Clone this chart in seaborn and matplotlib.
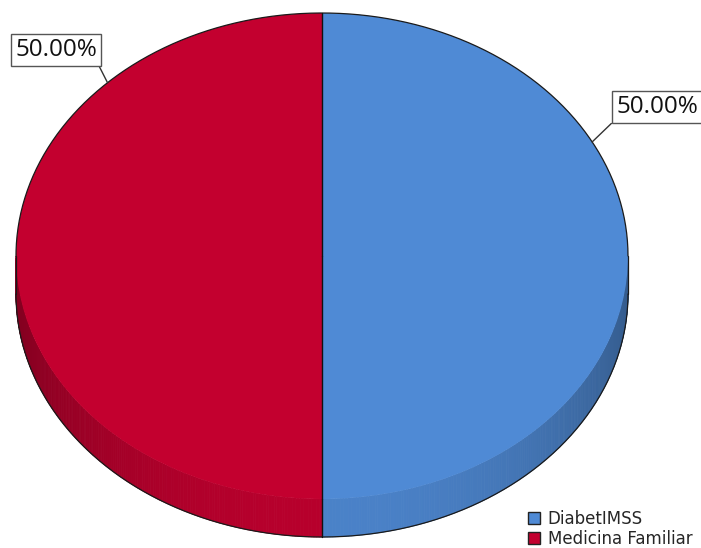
import numpy as np
import matplotlib
matplotlib.use("Agg")
import matplotlib.pyplot as plt
from matplotlib.patches import Patch, Polygon
import seaborn as sns

# Data
categories = ["DiabetIMSS", "Medicina Familiar"]
values = [50.0, 50.0]
colors = ["#4F8AD5", "#C3002F"]
label_angles = [28.0, 134.5]          # where each leader line meets the rim (degrees)

sns.set_theme(style="white")
plt.rcParams["font.family"] = ["DejaVu Sans"]
palette = sns.color_palette(colors)

W, H = 701, 548
fig = plt.figure(figsize=(W / 100, H / 100), dpi=100)
ax = fig.add_axes([0, 0, 1, 1])

# Ellipse geometry in pixels -> data units (unit circle stretched)
cx, cy = 322, 256
rx, ry = 306, 243
depth = 38 / ry


def to_data(px, py):
    return (px - cx) / rx, (cy - py) / ry


# Wedge angles: start at 12 o'clock, clockwise
fracs = np.array(values) / np.sum(values)
starts = 90 - 360 * np.concatenate([[0], np.cumsum(fracs)[:-1]])
ends = 90 - 360 * np.cumsum(fracs)

# Extruded side (front half only), shaded by angle
for s, e, col in zip(starts, ends, palette):
    lo, hi = sorted([s, e])
    for off in (0, 360, -360):
        a0, a1 = max(lo + off, 180), min(hi + off, 360)
        if a1 <= a0:
            continue
        n = max(int((a1 - a0) / 0.5), 1)
        grid = np.linspace(a0, a1, n + 1)
        for t0, t1 in zip(grid[:-1], grid[1:]):
            th = np.radians([t0, t1])
            tm = np.radians((t0 + t1) / 2)
            shade = 0.66 + 0.28 * abs(np.sin(tm)) ** 1.5
            c = tuple(np.clip(np.array(col) * shade, 0, 1))
            pts = [(np.cos(th[0]), np.sin(th[0])), (np.cos(th[1]), np.sin(th[1])),
                   (np.cos(th[1]), np.sin(th[1]) - depth), (np.cos(th[0]), np.sin(th[0]) - depth)]
            ax.add_patch(Polygon(pts, closed=True, facecolor=c, edgecolor=c,
                                 linewidth=0.6, zorder=1))

# Top face
wedges, _ = ax.pie(values, colors=palette, startangle=90, counterclock=False,
                   radius=1, center=(0, 0), frame=True,
                   wedgeprops=dict(linewidth=0))
for w in wedges:
    w.set_zorder(2)

# Silhouette outline
t = np.radians(np.linspace(0, 180, 300))
ax.plot(np.cos(t), np.sin(t), color="#1a1a1a", lw=0.9, zorder=3)
t = np.radians(np.linspace(180, 360, 300))
ax.plot(np.cos(t), np.sin(t) - depth, color="#1a1a1a", lw=0.9, zorder=3)
ax.plot([-1, -1], [0, -depth], color="#1a1a1a", lw=0.9, zorder=3)
ax.plot([1, 1], [0, -depth], color="#1a1a1a", lw=0.9, zorder=3)

# Slice boundaries
for a in starts:
    r = np.radians(a)
    ax.plot([0, np.cos(r)], [0, np.sin(r)], color="#111111", lw=1.0, zorder=3)
    if np.sin(r) < 0:
        ax.plot([np.cos(r)] * 2, [np.sin(r), np.sin(r) - depth],
                color="#111111", lw=1.0, zorder=3)

# Percentage labels with leader lines
box_anchor = [(616, 119), (97, 62)]   # text corner nearest the pie (pixels)
rel = [(0, 0), (1, 0)]
for v, ang, (bx, by), rp in zip(fracs * 100, label_angles, box_anchor, rel):
    r = np.radians(ang)
    tx, ty = to_data(bx, by)
    ax.annotate(f"{v:.2f}%", xy=(np.cos(r), np.sin(r)), xytext=(tx, ty),
                ha="left" if rp[0] == 0 else "right", va="bottom",
                fontsize=17.5, color="#111111", family=["Open Sans"],
                bbox=dict(boxstyle="square,pad=0.17", facecolor="white",
                          edgecolor="#555555", linewidth=1.0),
                arrowprops=dict(arrowstyle="-", color="#333333", lw=1.0,
                                relpos=rp, shrinkA=0, shrinkB=0),
                zorder=5)

# Axes limits so the unit circle becomes the ellipse
ax.set_aspect("auto")
ax.set_xlim(-cx / rx, (W - cx) / rx)
ax.set_ylim(-(H - cy) / ry, cy / ry)
ax.axis("off")

# Legend
handles = [Patch(facecolor=c, edgecolor="#222222", linewidth=1.0) for c in palette]
fig.legend(handles, categories, loc="lower left",
           bbox_to_anchor=(525 / W, -3 / H), frameon=False, fontsize=12,
           handlelength=0.7, handleheight=0.7, handletextpad=0.45,
           labelspacing=0.12, borderpad=0.2, borderaxespad=0)

fig.savefig("out.png", dpi=100, facecolor="white")
